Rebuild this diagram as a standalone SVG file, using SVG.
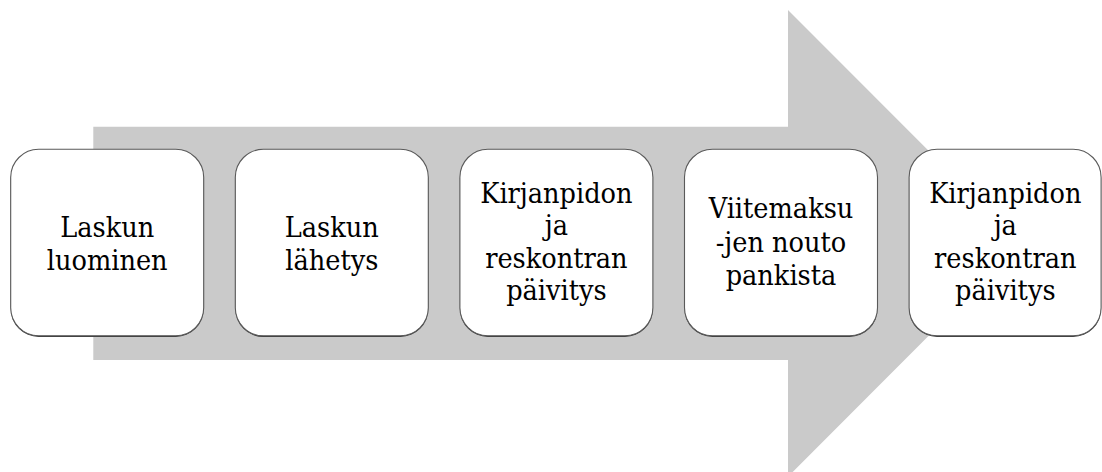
<svg xmlns="http://www.w3.org/2000/svg" width="1102" height="472" viewBox="0 0 1102 472">
<style>
.box{fill:#ffffff;stroke:#5a5a5a;stroke-width:1.1}
.shadow{fill:#3c3c3c}
.lbl{font-family:"DejaVu Serif Condensed","DejaVu Serif",serif;font-stretch:condensed;font-size:28.5px;fill:#000;text-anchor:middle}
</style>
<rect width="1102" height="472" fill="#ffffff"/>
<g id="arrow">
<path d="M93.3,126.7 H788 V10 L1021,243.3 L788,476.7 V360 H93.3 Z" fill="#cacaca"/>
</g>
<g id="connectors"></g>
<g id="n1">
<rect class="shadow" x="10.7" y="150.5" width="193" height="186.5" rx="28"/>
<rect class="box" x="10.7" y="149.3" width="193" height="186.5" rx="28"/>
<text class="lbl" x="107.2" y="237">Laskun</text>
<text class="lbl" x="107.2" y="270">luominen</text>
</g>
<g id="n2">
<rect class="shadow" x="235.3" y="150.5" width="193" height="186.5" rx="28"/>
<rect class="box" x="235.3" y="149.3" width="193" height="186.5" rx="28"/>
<text class="lbl" x="331.8" y="237">Laskun</text>
<text class="lbl" x="331.8" y="270">lähetys</text>
</g>
<g id="n3">
<rect class="shadow" x="459.9" y="150.5" width="193" height="186.5" rx="28"/>
<rect class="box" x="459.9" y="149.3" width="193" height="186.5" rx="28"/>
<text class="lbl" x="556.4" y="203">Kirjanpidon</text>
<text class="lbl" x="556.4" y="235.3">ja</text>
<text class="lbl" x="556.4" y="267.5">reskontran</text>
<text class="lbl" x="556.4" y="299.5">päivitys</text>
</g>
<g id="n4">
<rect class="shadow" x="684.5" y="150.5" width="193" height="186.5" rx="28"/>
<rect class="box" x="684.5" y="149.3" width="193" height="186.5" rx="28"/>
<text class="lbl" x="781" y="218.3">Viitemaksu</text>
<text class="lbl" x="781" y="251.7">-jen nouto</text>
<text class="lbl" x="781" y="285">pankista</text>
</g>
<g id="n5">
<rect class="shadow" x="909.1" y="150.5" width="192" height="186.5" rx="28"/>
<rect class="box" x="909.1" y="149.3" width="192" height="186.5" rx="28"/>
<text class="lbl" x="1005.3" y="203">Kirjanpidon</text>
<text class="lbl" x="1005.3" y="235.3">ja</text>
<text class="lbl" x="1005.3" y="267.5">reskontran</text>
<text class="lbl" x="1005.3" y="299.5">päivitys</text>
</g>
</svg>
